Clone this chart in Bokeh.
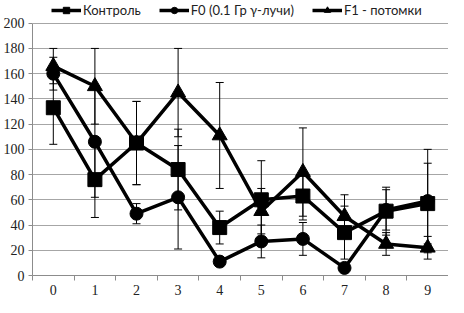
from bokeh.plotting import figure
from bokeh.models import ColumnDataSource, Whisker, TeeHead, FixedTicker, Legend, LegendItem
from bokeh.embed import file_html
from bokeh.resources import INLINE

days = [0, 1, 2, 3, 4, 5, 6, 7, 8, 9]
tick_labels = ["0", "1", "2", "3", "4", "5", "6", "7", "8", "9"]
y_ticks = [0, 20, 40, 60, 80, 100, 120, 140, 160, 180, 200]

control = [133, 76, 105, 84, 38, 60, 63, 34, 51, 57]
control_err = [29, 30, 33, 32, 13, 31, 19, 21, 19, 32]

f0 = [160, 106, 49, 62, 11, 27, 29, 6, 52, 59]
f0_err = [13, 44, 8, 41, 2, 13, 13, 3, 16, 41]

f1 = [166, 150, 105, 145, 111, 51, 82, 47, 25, 22]
f1_err = [14, 30, 33, 35, 42, 18, 35, 17, 9, 9]

series = [
    ("Контроль", control, control_err, "square", 14),
    ("F0 (0.1 Гр γ-лучи)", f0, f0_err, "circle", 13),
    ("F1 - потомки", f1, f1_err, "triangle", 15),
]

p = figure(width=448, height=297, output_backend="svg", toolbar_location=None,
           x_range=(-0.5, 9.5), y_range=(0, 218),
           min_border_left=0, min_border_right=0, min_border_top=0, min_border_bottom=0)
p.outline_line_color = None
p.background_fill_color = "white"

# grid
p.xgrid.grid_line_color = None
p.ygrid.grid_line_color = "#a6a6a6"
p.ygrid.grid_line_width = 1
p.ygrid.ticker = FixedTicker(ticks=y_ticks)

# axes
p.yaxis.ticker = FixedTicker(ticks=y_ticks)
p.yaxis.bounds = (0, 200)
p.yaxis.axis_line_color = "#8c8c8c"
p.yaxis.major_tick_line_color = "#8c8c8c"
p.yaxis.major_tick_out = 4
p.yaxis.major_tick_in = 0
p.yaxis.minor_tick_line_color = None
p.yaxis.major_label_standoff = 4

p.xaxis.ticker = FixedTicker(ticks=days, minor_ticks=[d - 0.5 for d in days] + [9.5])
p.xaxis.major_label_overrides = {d: l for d, l in zip(days, tick_labels)}
p.xaxis.axis_line_color = "#8c8c8c"
p.xaxis.major_tick_line_color = None
p.xaxis.minor_tick_line_color = "#8c8c8c"
p.xaxis.minor_tick_out = 5
p.xaxis.minor_tick_in = 0
p.xaxis.major_label_standoff = 3

for ax in (p.xaxis, p.yaxis):
    ax.major_label_text_font = "Times New Roman"
    ax.major_label_text_font_size = "14px"
    ax.major_label_text_color = "#222222"

items = []
for name, vals, errs, marker, size in series:
    src = ColumnDataSource(dict(x=days, y=vals,
                                lo=[v - e for v, e in zip(vals, errs)],
                                hi=[v + e for v, e in zip(vals, errs)]))
    w = Whisker(source=src, base="x", upper="hi", lower="lo",
                line_color="black", line_width=1,
                upper_head=TeeHead(size=8, line_color="black", line_width=1),
                lower_head=TeeHead(size=8, line_color="black", line_width=1))
    p.add_layout(w)
    r1 = p.line("x", "y", source=src, line_color="black", line_width=3.5)
    r2 = p.scatter("x", "y", source=src, marker=marker, size=size,
                   fill_color="black", line_color="black")
    items.append(LegendItem(label=name, renderers=[r1, r2]))

legend = Legend(items=items, orientation="horizontal", location=(19, 257),
                background_fill_alpha=0, border_line_alpha=0,
                label_text_font="Lato", label_text_font_size="13px",
                label_text_color="#222222",
                glyph_width=30, glyph_height=16, spacing=18,
                label_standoff=2, padding=0, margin=0)
p.add_layout(legend, "center")

open("out.html", "w").write(file_html(p, INLINE))
